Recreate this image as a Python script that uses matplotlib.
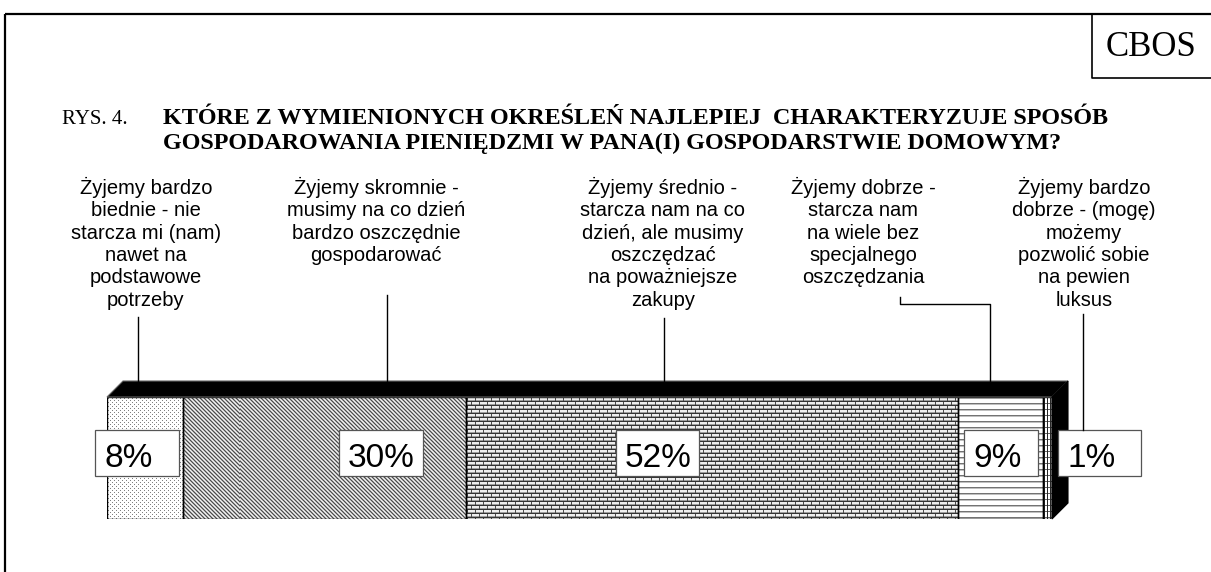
import numpy as np
import matplotlib
matplotlib.use('Agg')
import matplotlib.pyplot as plt
from matplotlib.patches import Polygon, Rectangle

# data
categories = ['Żyjemy bardzo\nbiednie - nie\nstarcza mi (nam)\nnawet na\npodstawowe\npotrzeby',
              'Żyjemy skromnie -\nmusimy na co dzień\nbardzo oszczędnie\ngospodarować',
              'Żyjemy średnio -\nstarcza nam na co\ndzień, ale musimy\noszczędzać\nna poważniejsze\nzakupy',
              'Żyjemy dobrze -\nstarcza nam\nna wiele bez\nspecjalnego\noszczędzania',
              'Żyjemy bardzo\ndobrze - (mogę)\nmożemy\npozwolić sobie\nna pewien\nluksus']
values = [8, 30, 52, 9, 1]
title_prefix = 'RYS. 4.'
title_lines = ['KTÓRE Z WYMIENIONYCH OKREŚLEŃ NAJLEPIEJ  CHARAKTERYZUJE SPOSÓB',
               'GOSPODAROWANIA PIENIĘDZMI W PANA(I) GOSPODARSTWIE DOMOWYM?']
source = 'CBOS'

W, H = 1211, 572
fig = plt.figure(figsize=(W / 100, H / 100), dpi=100)

# bar axes: front face of the 3d bar
bx0, bx1, by0, by1 = 107, 1052, 397, 519
ax = fig.add_axes([bx0 / W, 1 - by1 / H, (bx1 - bx0) / W, (by1 - by0) / H])
ax.set_xlim(0, 100)
ax.set_ylim(0, 1)
ax.axis('off')


def texture(kind, h=122, w=945):
    yy, xx = np.mgrid[0:h, 0:w]
    if kind == 'dots':
        img = np.ones((h, w))
        m = ((yy % 4 == 1) & (xx % 4 == 1)) | ((yy % 4 == 3) & (xx % 4 == 3))
        img[m] = 0.5
    elif kind == 'diag':
        lut = np.array([0.3, 0.65, 0.95, 0.72])
        img = lut[(xx - yy) % 4]
    elif kind == 'brick':
        img = np.full((h, w), 0.93)
        r = yy % 4
        img[r == 3] = 0.62
        img[r == 0] = 0.2
        off = np.where((yy // 4) % 2 == 0, 0, 4)
        img[((xx + off) % 8 == 0) & (r != 0)] = 0.3
    elif kind == 'hlines':
        img = np.ones((h, w))
        img[yy % 6 == 0] = 0.45
        img[yy % 6 == 1] = 0.75
    else:
        img = np.ones((h, w))
        img[yy % 6 == 0] = 0.4
        img[xx % 3 == 0] = 0.15
    return img


kinds = ['dots', 'diag', 'brick', 'hlines', 'grid']
lefts = np.concatenate([[0], np.cumsum(values)[:-1]])
bars = ax.barh(0.5, values, left=lefts, height=1, color='none',
               edgecolor='black', linewidth=1.0, zorder=3)
for b, k in zip(bars, kinds):
    im = ax.imshow(texture(k), cmap='gray', vmin=0, vmax=1, extent=(0, 100, 0, 1),
                   aspect='auto', interpolation='nearest', zorder=2)
    im.set_clip_path(b)
ax.set_xlim(0, 100)
ax.set_ylim(0, 1)

# 3d top and side faces
total = sum(values)
dx = 16 / (bx1 - bx0) * total
dy = 16 / (by1 - by0)
ax.add_patch(Polygon([(0, 1), (total, 1), (total + dx, 1 + dy), (dx, 1 + dy)],
                     closed=True, facecolor='black', edgecolor='#666666',
                     linewidth=0.8, clip_on=False, zorder=4))
ax.add_patch(Polygon([(total, 1), (total + dx, 1 + dy), (total + dx, dy), (total, 0)],
                     closed=True, facecolor='black', edgecolor='black',
                     linewidth=0.8, clip_on=False, zorder=4))

# overlay in pixel coordinates for frame, texts and leaders
ov = fig.add_axes([0, 0, 1, 1], zorder=5)
ov.set_xlim(0, W)
ov.set_ylim(H, 0)
ov.axis('off')

ov.plot([5, W], [14, 14], color='black', lw=1.6, solid_capstyle='butt')
ov.plot([5, 5], [14, H], color='black', lw=1.6, solid_capstyle='butt')
ov.plot([1092, 1092, W], [14, 78, 78], color='black', lw=1.2)
ov.text(1151, 47, source, ha='center', va='center', fontsize=25,
        family='Liberation Serif')

ov.text(62, 124, title_prefix, ha='left', va='baseline', fontsize=15,
        family='Liberation Serif')
for i, t in enumerate(title_lines):
    ov.text(163, 124 + 25 * i, t, ha='left', va='baseline', fontsize=17.4,
            family='Liberation Serif', fontweight='bold')

# category labels
label_x = [146, 376, 663, 863, 1084]
for x, c in zip(label_x, categories):
    ov.text(x, 177, c, ha='center', va='top', fontsize=14.5,
            family='Liberation Sans', linespacing=1.22)

# leader lines
lk = dict(color='black', lw=1.0)
ov.plot([138, 138], [317, 381], **lk)
ov.plot([387, 387], [295, 381], **lk)
ov.plot([664, 664], [318, 381], **lk)
ov.plot([900, 900, 990, 990], [297, 304, 304, 381], **lk)
ov.plot([1083, 1083], [314, 430], **lk)

# percentage boxes
boxes = [(95, 84), (339, 84), (616, 83), (964, 74), (1058, 83)]
for (x0, w), v in zip(boxes, values):
    ov.add_patch(Rectangle((x0, 430), w, 46, facecolor='white',
                           edgecolor='#555555', linewidth=0.9))
    ov.text(x0 + 9, 467, f'{v}%', ha='left', va='baseline', fontsize=24,
            family='Liberation Sans')

fig.savefig('out.png', dpi=100)
